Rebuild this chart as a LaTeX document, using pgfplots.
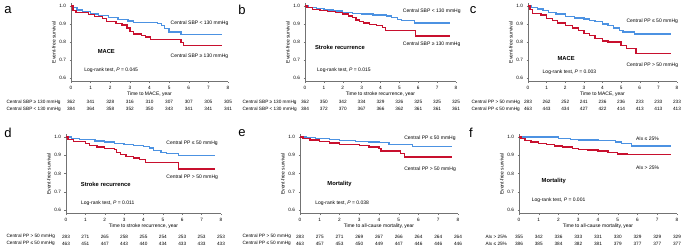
\documentclass[border=0pt]{standalone}
\usepackage{fontspec}
\setmainfont{Liberation Sans}
\usepackage{pgfplots}
\pgfplotsset{compat=1.18}
\definecolor{kmblue}{RGB}{76,146,226}
\definecolor{kmred}{RGB}{200,16,46}
\newcommand{\tf}{\fontsize{4.7}{5.5}\selectfont}
\newcommand{\lf}{\fontsize{5}{6}\selectfont}
\newcommand{\bfnt}{\fontsize{5.8}{7}\selectfont\bfseries}
\newcommand{\pl}{\fontsize{13}{14}\selectfont}
\pgfplotsset{
  km/.style={
    scale only axis, clip=false,
    xmin=0, xmax=8, ymin=0.58, ymax=1.015,
    axis x line*=bottom, axis y line*=left,
    axis line style={black!55, line width=0.4pt},
    xtick={0,1,2,3,4,5,6,7,8}, ytick={0.6,0.7,0.8,0.9,1.0},
    tick align=outside, major tick length=1.5pt,
    tick style={black!55, line width=0.4pt},
    ticklabel style={font=\tf},
    xticklabel style={yshift=0.8pt},
    /pgf/number format/assume math mode=true,
    yticklabel style={/pgf/number format/fixed, /pgf/number format/fixed zerofill, /pgf/number format/precision=1},
    ylabel={Event-free survival},
    ylabel shift=-3pt,
    label style={font=\lf},
    xlabel style={at={(axis description cs:0.5,0)}, anchor=center, yshift=-12.3pt},
  },
  curve/.style={const plot, line width=1.3pt, mark=none, #1},
  riskrow/.style={draw=none, mark=none, forget plot, nodes near coords, point meta=explicit symbolic,
    every node near coord/.append style={font=\tf, anchor=center, yshift=#1, text=black}},
}
\begin{document}
\begin{tikzpicture}
\useasboundingbox (0,0) rectangle (685pt,251pt);
% ---------------- a
\begin{axis}[km, at={(71pt,169.4pt)}, anchor=south west, width=157pt, height=78.3pt, xlabel={Time to MACE, year}]
\addplot[curve=kmblue] coordinates {(0,1.0) (0.1,0.99) (0.3,0.978) (0.6,0.968) (1.0,0.955) (1.4,0.946) (1.9,0.937) (2.4,0.926) (2.9,0.917) (3.2,0.909) (4.4,0.903) (4.6,0.89) (4.75,0.876) (5.0,0.856) (5.6,0.84) (7.7,0.84)};
\addplot[curve=kmred] coordinates {(0,1.0) (0.1,0.975) (0.25,0.964) (0.9,0.952) (1.2,0.942) (1.6,0.931) (1.8,0.914) (2.3,0.904) (2.6,0.895) (2.85,0.877) (3.0,0.86) (3.2,0.845) (3.6,0.836) (3.8,0.827) (4.05,0.813) (5.6,0.798) (5.75,0.78) (7.7,0.78)};
\addplot[riskrow=-20.6pt] coordinates {(0,0.58)[362] (1,0.58)[341] (2,0.58)[328] (3,0.58)[316] (4,0.58)[310] (5,0.58)[307] (6,0.58)[307] (7,0.58)[305] (8,0.58)[305]};
\addplot[riskrow=-27.4pt] coordinates {(0,0.58)[384] (1,0.58)[364] (2,0.58)[358] (3,0.58)[352] (4,0.58)[350] (5,0.58)[343] (6,0.58)[341] (7,0.58)[341] (8,0.58)[341]};
\node[anchor=west,font=\tf,xshift=-68pt,yshift=-20.6pt] at (axis cs:0,0.58) {Central SBP ≥ 130 mmHg};
\node[anchor=west,font=\tf,xshift=-68pt,yshift=-27.4pt] at (axis cs:0,0.58) {Central SBP < 130 mmHg};
\node[anchor=west,font=\lf] at (axis cs:4.9,0.907) {Central SBP < 130 mmHg};
\node[anchor=west,font=\lf] at (axis cs:4.9,0.72) {Central SBP ≥ 130 mmHg};
\node[font=\bfnt] at (axis cs:1.8,0.749) {MACE};
\node[anchor=west,font=\lf] at (axis cs:0.5,0.644) {Log-rank test, \textit{P} = 0.045};
\end{axis}
% ---------------- b
\begin{axis}[km, at={(305pt,169.4pt)}, anchor=south west, width=151pt, height=78.3pt, xlabel={Time to stroke recurrence, year}]
\addplot[curve=kmblue] coordinates {(0,1.0) (0.2,0.99) (0.6,0.985) (1.0,0.978) (1.5,0.972) (2.0,0.965) (2.5,0.96) (3.0,0.955) (3.6,0.95) (4.3,0.945) (4.6,0.935) (4.9,0.925) (5.1,0.918) (5.8,0.905) (7.7,0.905)};
\addplot[curve=kmred] coordinates {(0,1.0) (0.1,0.99) (0.4,0.982) (0.8,0.975) (1.2,0.97) (1.6,0.963) (2.0,0.955) (2.3,0.945) (2.5,0.935) (2.7,0.922) (2.9,0.912) (3.1,0.905) (3.4,0.898) (3.8,0.89) (4.1,0.88) (4.25,0.863) (5.85,0.834) (7.7,0.834)};
\addplot[riskrow=-20.6pt] coordinates {(0,0.58)[362] (1,0.58)[350] (2,0.58)[342] (3,0.58)[334] (4,0.58)[329] (5,0.58)[326] (6,0.58)[325] (7,0.58)[325] (8,0.58)[325]};
\addplot[riskrow=-27.4pt] coordinates {(0,0.58)[384] (1,0.58)[372] (2,0.58)[370] (3,0.58)[367] (4,0.58)[366] (5,0.58)[362] (6,0.58)[361] (7,0.58)[361] (8,0.58)[361]};
\node[anchor=west,font=\tf,xshift=-66pt,yshift=-20.6pt] at (axis cs:0,0.58) {Central SBP ≥ 130 mmHg};
\node[anchor=west,font=\tf,xshift=-66pt,yshift=-27.4pt] at (axis cs:0,0.58) {Central SBP < 130 mmHg};
\node[anchor=west,font=\lf] at (axis cs:5.0,0.971) {Central SBP < 130 mmHg};
\node[anchor=west,font=\lf] at (axis cs:5.0,0.785) {Central SBP ≥ 130 mmHg};
\node[font=\bfnt] at (axis cs:1.85,0.772) {Stroke recurrence};
\node[anchor=west,font=\lf] at (axis cs:0.46,0.643) {Log-rank test, \textit{P} = 0.015};
\end{axis}
% ---------------- c
\begin{axis}[km, at={(528pt,169.4pt)}, anchor=south west, width=149pt, height=78.3pt, xlabel={Time to MACE, year}]
\addplot[curve=kmblue] coordinates {(0,1.0) (0.2,0.99) (0.5,0.983) (0.8,0.975) (1.1,0.965) (1.5,0.955) (2.0,0.942) (2.5,0.933) (3.0,0.927) (3.3,0.92) (3.6,0.912) (4.0,0.9) (4.3,0.89) (4.6,0.878) (4.9,0.862) (5.1,0.855) (5.7,0.845) (7.7,0.845)};
\addplot[curve=kmred] coordinates {(0,1.0) (0.1,0.98) (0.25,0.96) (0.7,0.95) (1.0,0.932) (1.3,0.918) (1.6,0.905) (2.0,0.89) (2.4,0.878) (2.7,0.862) (3.0,0.848) (3.3,0.835) (3.6,0.82) (4.0,0.805) (4.3,0.8) (5.0,0.78) (5.3,0.762) (5.8,0.737) (7.7,0.737)};
\addplot[riskrow=-20.6pt] coordinates {(0,0.58)[283] (1,0.58)[262] (2,0.58)[252] (3,0.58)[241] (4,0.58)[236] (5,0.58)[236] (6,0.58)[233] (7,0.58)[233] (8,0.58)[233]};
\addplot[riskrow=-27.4pt] coordinates {(0,0.58)[463] (1,0.58)[443] (2,0.58)[434] (3,0.58)[427] (4,0.58)[422] (5,0.58)[414] (6,0.58)[413] (7,0.58)[413] (8,0.58)[413]};
\node[anchor=west,font=\tf,xshift=-60pt,yshift=-20.6pt] at (axis cs:0,0.58) {Central PP > 50 mmHg};
\node[anchor=west,font=\tf,xshift=-60pt,yshift=-27.4pt] at (axis cs:0,0.58) {Central PP ≤ 50 mmHg};
\node[anchor=west,font=\lf] at (axis cs:5.1,0.918) {Central PP ≤ 50 mmHg};
\node[anchor=west,font=\lf] at (axis cs:5.1,0.673) {Central PP > 50 mmHg};
\node[font=\bfnt] at (axis cs:2.05,0.706) {MACE};
\node[anchor=west,font=\lf] at (axis cs:0.6,0.63) {Log-rank test, \textit{P} = 0.003};
\end{axis}
% ---------------- d
\begin{axis}[km, at={(66pt,37.35pt)}, anchor=south west, width=155pt, height=79.4pt, xlabel={Time to stroke recurrence, year}]
\addplot[curve=kmblue] coordinates {(0,1.0) (0.3,0.993) (0.7,0.988) (1.0,0.985) (1.5,0.978) (2.0,0.972) (2.5,0.966) (3.0,0.96) (3.5,0.955) (4.0,0.948) (4.3,0.94) (4.5,0.926) (4.9,0.915) (5.2,0.91) (5.8,0.898) (7.7,0.898)};
\addplot[curve=kmred] coordinates {(0,1.0) (0.1,0.985) (0.4,0.975) (1.0,0.965) (1.2,0.952) (1.6,0.945) (2.0,0.938) (2.5,0.93) (2.6,0.915) (2.8,0.905) (3.1,0.892) (3.5,0.885) (3.8,0.875) (4.1,0.86) (5.8,0.825) (7.7,0.825)};
\addplot[riskrow=-22.8pt] coordinates {(0,0.58)[283] (1,0.58)[271] (2,0.58)[265] (3,0.58)[258] (4,0.58)[255] (5,0.58)[254] (6,0.58)[253] (7,0.58)[253] (8,0.58)[253]};
\addplot[riskrow=-29.8pt] coordinates {(0,0.58)[463] (1,0.58)[451] (2,0.58)[447] (3,0.58)[443] (4,0.58)[440] (5,0.58)[434] (6,0.58)[433] (7,0.58)[433] (8,0.58)[433]};
\node[anchor=west,font=\tf,xshift=-63pt,yshift=-22.8pt] at (axis cs:0,0.58) {Central PP > 50 mmHg};
\node[anchor=west,font=\tf,xshift=-63pt,yshift=-29.8pt] at (axis cs:0,0.58) {Central PP ≤ 50 mmHg};
\node[anchor=west,font=\lf] at (axis cs:5.0,0.966) {Central PP ≤ 50 mmHg};
\node[anchor=west,font=\lf] at (axis cs:5.0,0.78) {Central PP > 50 mmHg};
\node[font=\bfnt] at (axis cs:2.05,0.738) {Stroke recurrence};
\node[anchor=west,font=\lf] at (axis cs:0.6,0.637) {Log-rank test, \textit{P} = 0.011};
\end{axis}
% ---------------- e
\begin{axis}[km, at={(300pt,37.35pt)}, anchor=south west, width=158pt, height=79.4pt, xlabel={Time to all-cause mortality, year}]
\addplot[curve=kmblue] coordinates {(0,1.0) (0.3,0.996) (0.8,0.99) (1.5,0.986) (2.0,0.982) (2.8,0.977) (3.5,0.973) (4.0,0.969) (4.5,0.958) (5.7,0.946) (7.7,0.946)};
\addplot[curve=kmred] coordinates {(0,1.0) (0.15,0.99) (0.5,0.984) (1.0,0.976) (1.5,0.967) (2.0,0.958) (3.0,0.953) (3.5,0.945) (4.0,0.937) (4.1,0.924) (5.1,0.91) (5.3,0.891) (7.7,0.891)};
\addplot[riskrow=-22.8pt] coordinates {(0,0.58)[283] (1,0.58)[275] (2,0.58)[271] (3,0.58)[269] (4,0.58)[267] (5,0.58)[266] (6,0.58)[264] (7,0.58)[264] (8,0.58)[264]};
\addplot[riskrow=-29.8pt] coordinates {(0,0.58)[463] (1,0.58)[457] (2,0.58)[453] (3,0.58)[450] (4,0.58)[449] (5,0.58)[447] (6,0.58)[446] (7,0.58)[446] (8,0.58)[446]};
\node[anchor=west,font=\tf,xshift=-61pt,yshift=-22.8pt] at (axis cs:0,0.58) {Central PP > 50 mmHg};
\node[anchor=west,font=\tf,xshift=-61pt,yshift=-29.8pt] at (axis cs:0,0.58) {Central PP ≤ 50 mmHg};
\node[anchor=west,font=\lf] at (axis cs:5.1,0.995) {Central PP ≤ 50 mmHg};
\node[anchor=west,font=\lf] at (axis cs:5.1,0.823) {Central PP > 50 mmHg};
\node[font=\bfnt] at (axis cs:2.0,0.741) {Mortality};
\node[anchor=west,font=\lf] at (axis cs:0.6,0.636) {Log-rank test, \textit{P} = 0.038};
\end{axis}
% ---------------- f
\begin{axis}[km, at={(519pt,37.35pt)}, anchor=south west, width=158pt, height=79.4pt, xlabel={Time to all-cause mortality, year}]
\addplot[curve=kmblue] coordinates {(0,1.0) (2.0,0.993) (2.6,0.988) (3.0,0.984) (4.0,0.979) (4.9,0.973) (5.2,0.965) (5.7,0.951) (7.7,0.951)};
\addplot[curve=kmred] coordinates {(0,1.0) (0.1,0.99) (0.3,0.98) (0.6,0.972) (1.0,0.965) (1.4,0.958) (1.8,0.951) (2.2,0.945) (2.7,0.938) (3.0,0.933) (3.5,0.928) (4.0,0.923) (4.5,0.915) (5.0,0.907) (5.5,0.905) (7.7,0.905)};
\addplot[riskrow=-22.8pt] coordinates {(0,0.58)[355] (1,0.58)[342] (2,0.58)[336] (3,0.58)[333] (4,0.58)[331] (5,0.58)[330] (6,0.58)[329] (7,0.58)[329] (8,0.58)[329]};
\addplot[riskrow=-29.8pt] coordinates {(0,0.58)[386] (1,0.58)[385] (2,0.58)[384] (3,0.58)[382] (4,0.58)[381] (5,0.58)[379] (6,0.58)[377] (7,0.58)[377] (8,0.58)[377]};
\node[anchor=west,font=\tf,xshift=-37pt,yshift=-22.8pt] at (axis cs:0,0.58) {AIx > 25\%};
\node[anchor=west,font=\tf,xshift=-37pt,yshift=-29.8pt] at (axis cs:0,0.58) {AIx ≤ 25\%};
\node[anchor=west,font=\lf] at (axis cs:5.75,0.99) {AIx ≤ 25\%};
\node[anchor=west,font=\lf] at (axis cs:5.75,0.834) {AIx > 25\%};
\node[font=\bfnt] at (axis cs:1.76,0.757) {Mortality};
\node[anchor=west,font=\lf] at (axis cs:0.47,0.652) {Log-rank test, \textit{P} = 0.001};
\end{axis}
% panel letters
\node[font=\pl] at (8pt,241pt) {a};
\node[font=\pl] at (242pt,241pt) {b};
\node[font=\pl] at (473pt,241pt) {c};
\node[font=\pl] at (8pt,118pt) {d};
\node[font=\pl] at (242pt,118pt) {e};
\node[font=\pl] at (471pt,118pt) {f};
\end{tikzpicture}
\end{document}
